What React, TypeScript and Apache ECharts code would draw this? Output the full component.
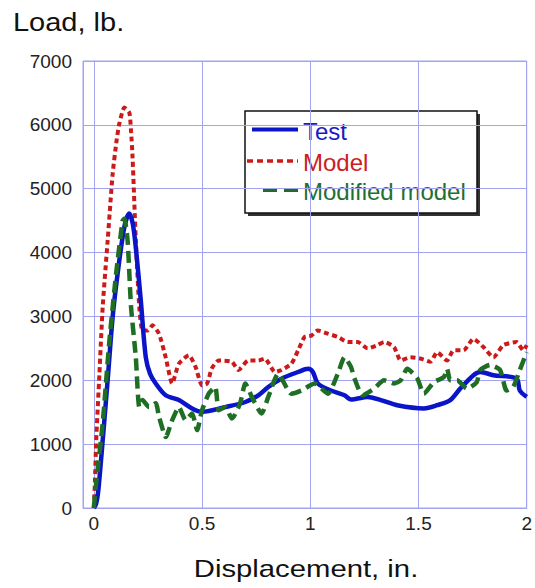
import React, { useEffect, useRef } from "react";
import * as echarts from "echarts";

const xTickValues = [0, 0.5, 1, 1.5, 2];
const yTickValues = [0, 1000, 2000, 3000, 4000, 5000, 6000, 7000];

const testData: number[][] = [
  [0, 0], [0.01, 60], [0.02, 250], [0.041, 1060], [0.065, 2050], [0.087, 2990], [0.11, 3670],
  [0.141, 4400], [0.164, 4610], [0.18, 4450], [0.194, 4080], [0.217, 3250], [0.24, 2360],
  [0.26, 2100], [0.286, 1950], [0.332, 1765], [0.393, 1690], [0.454, 1560], [0.5, 1505],
  [0.607, 1580], [0.7, 1660], [0.76, 1765], [0.806, 1895], [0.867, 2025], [0.944, 2130],
  [0.99, 2180], [1.012, 2130], [1.035, 1950], [1.096, 1840], [1.158, 1765], [1.188, 1700],
  [1.265, 1740], [1.326, 1690], [1.402, 1610], [1.525, 1560], [1.586, 1610], [1.647, 1690],
  [1.693, 1870], [1.754, 2080], [1.785, 2130], [1.846, 2080], [1.953, 2025], [1.968, 1840],
  [2.0, 1740],
];

const modelData: number[][] = [
  [0, 0], [0.005, 400], [0.011, 1060], [0.026, 2110], [0.041, 3150], [0.064, 4190],
  [0.087, 5230], [0.105, 5750], [0.118, 6020], [0.141, 6270], [0.164, 6190], [0.172, 5900],
  [0.179, 5490], [0.194, 4190], [0.21, 3150], [0.225, 2780], [0.25, 2780], [0.271, 2860],
  [0.301, 2730], [0.332, 2360], [0.362, 1950], [0.393, 2260], [0.439, 2390], [0.47, 2210],
  [0.5, 1920], [0.523, 1950], [0.546, 2190], [0.577, 2310], [0.638, 2290], [0.668, 2160],
  [0.714, 2310], [0.76, 2310], [0.79, 2340], [0.837, 2130], [0.867, 2160], [0.913, 2260],
  [0.944, 2470], [0.974, 2680], [1.005, 2700], [1.035, 2780], [1.081, 2730], [1.127, 2680],
  [1.173, 2600], [1.219, 2600], [1.265, 2500], [1.31, 2550], [1.341, 2600], [1.387, 2520],
  [1.418, 2310], [1.463, 2360], [1.509, 2340], [1.555, 2290], [1.586, 2440], [1.632, 2310],
  [1.662, 2470], [1.708, 2470], [1.754, 2650], [1.8, 2520], [1.846, 2360], [1.892, 2550],
  [1.953, 2600], [1.984, 2470], [2.0, 2550],
];

const modifiedData: number[][] = [
  [0, 0], [0.011, 390], [0.041, 1330], [0.072, 2620], [0.103, 3670], [0.133, 4500],
  [0.141, 4530], [0.156, 4190], [0.172, 3150], [0.194, 2360], [0.21, 1580], [0.225, 1690],
  [0.255, 1580], [0.286, 1640], [0.301, 1430], [0.324, 1170], [0.332, 1110], [0.362, 1375],
  [0.393, 1580], [0.424, 1375], [0.454, 1480], [0.477, 1220], [0.5, 1530], [0.531, 1790],
  [0.561, 1895], [0.577, 1530], [0.607, 1580], [0.638, 1400], [0.676, 1640], [0.7, 1950],
  [0.73, 1740], [0.775, 1480], [0.806, 1740], [0.852, 2100], [0.913, 1790], [0.959, 1840],
  [1.02, 1950], [1.081, 1790], [1.127, 2100], [1.158, 2360], [1.188, 2210], [1.204, 2030],
  [1.242, 1765], [1.295, 1870], [1.341, 2000], [1.387, 1950], [1.418, 2000], [1.448, 2180],
  [1.494, 2030], [1.525, 1790], [1.571, 1970], [1.617, 2050], [1.632, 2180], [1.647, 2000],
  [1.678, 2000], [1.724, 1870], [1.769, 1970], [1.785, 2160], [1.831, 2240], [1.877, 2160],
  [1.907, 1840], [1.938, 1900], [1.968, 2160], [2.0, 2440],
];

const seriesNames = ["Test", "Model", "Modified model"];
const yAxisTitle = "Load, lb.";
const xAxisTitle = "Displacement, in.";

const FONT = "'Liberation Sans', Arial, Helvetica, sans-serif";
const BLUE = "#0a14c8";
const RED = "#cc1a1a";
const GREEN = "#1e6e23";
const GRIDC = "#a3a3ef";

export default function App() {
  const ref = useRef<HTMLDivElement>(null);
  useEffect(() => {
    document.body.style.margin = "0";
    if (!ref.current) return;
    const chart = echarts.init(ref.current, null, { renderer: "svg" });
    chart.setOption({
      animation: false,
      backgroundColor: "#ffffff",
      grid: {
        left: 83, right: 5, top: 61, bottom: 80,
        show: true, borderColor: GRIDC, borderWidth: 1, backgroundColor: "transparent",
      },
      xAxis: {
        type: "value",
        min: -0.05,
        max: 2,
        splitNumber: 4,
        axisLine: { show: true, lineStyle: { color: GRIDC, width: 1 } },
        axisTick: { show: false },
        splitLine: { show: true, lineStyle: { color: GRIDC, width: 1 } },
        axisLabel: {
          showMinLabel: false,
          margin: 6,
          color: "#222",
          fontSize: 19,
          fontFamily: FONT,
          formatter: (v: number) => {
            const hit = xTickValues.find((t) => Math.abs(t - v) < 1e-6);
            return hit === undefined ? "" : String(hit);
          },
        },
      },
      yAxis: {
        type: "value",
        min: 0,
        max: 7000,
        interval: 1000,
        axisLine: { show: true, lineStyle: { color: GRIDC, width: 1 } },
        axisTick: { show: true, length: 4, lineStyle: { color: GRIDC } },
        splitLine: { show: true, lineStyle: { color: GRIDC, width: 1 } },
        axisLabel: {
          margin: 11,
          color: "#222",
          fontSize: 19,
          fontFamily: FONT,
          formatter: (v: number) => {
            const hit = yTickValues.find((t) => Math.abs(t - v) < 1e-6);
            return hit === undefined ? "" : String(hit);
          },
        },
      },
      series: [
        {
          name: seriesNames[0], type: "line", data: testData, showSymbol: false, smooth: 0.3,
          lineStyle: { color: BLUE, width: 4.5 }, z: 3,
        },
        {
          name: seriesNames[1], type: "line", data: modelData, showSymbol: false, smooth: 0.2,
          lineStyle: { color: RED, width: 4, type: [5, 3.5] }, z: 2,
        },
        {
          name: seriesNames[2], type: "line", data: modifiedData, showSymbol: false, smooth: 0.2,
          lineStyle: { color: GREEN, width: 4.5, type: [12, 6] }, z: 4,
        },
      ],
      graphic: [
        {
          type: "text", x: 13, y: 22, scaleX: 1.16,
          style: { text: yAxisTitle, fontSize: 25, fontFamily: FONT, fill: "#111", textAlign: "left", textVerticalAlign: "middle" },
        },
        {
          type: "text", x: 306, y: 569, scaleX: 1.22,
          style: { text: xAxisTitle, fontSize: 24, fontFamily: FONT, fill: "#111", textAlign: "center", textVerticalAlign: "middle" },
        },
        {
          type: "group", z: 100,
          children: [
            { type: "rect", shape: { x: 248, y: 114, width: 232, height: 102 }, style: { fill: "#333" } },
            { type: "rect", shape: { x: 245, y: 111, width: 232, height: 102 }, style: { fill: "#fff", stroke: "#111", lineWidth: 1.5 } },
            { type: "line", shape: { x1: 252, y1: 129.5, x2: 298, y2: 129.5 }, style: { stroke: BLUE, lineWidth: 4 } },
            { type: "line", shape: { x1: 247, y1: 161, x2: 298, y2: 161 }, style: { stroke: RED, lineWidth: 3.5, lineDash: [6, 4] } },
            { type: "line", shape: { x1: 263, y1: 190, x2: 298, y2: 190 }, style: { stroke: GREEN, lineWidth: 4, lineDash: [14, 7] } },
            { type: "text", x: 303, y: 131, style: { text: seriesNames[0], fontSize: 24, fontFamily: FONT, fill: "#1a1ac4", textVerticalAlign: "middle" } },
            { type: "text", x: 303, y: 162, style: { text: seriesNames[1], fontSize: 24, fontFamily: FONT, fill: "#cc2020", textVerticalAlign: "middle" } },
            { type: "text", x: 303, y: 191, style: { text: seriesNames[2], fontSize: 24, fontFamily: FONT, fill: "#1e7030", textVerticalAlign: "middle" } },
          ],
        },
      ],
    });
    return () => chart.dispose();
  }, []);
  return <div ref={ref} style={{ width: 535, height: 588 }} />;
}
